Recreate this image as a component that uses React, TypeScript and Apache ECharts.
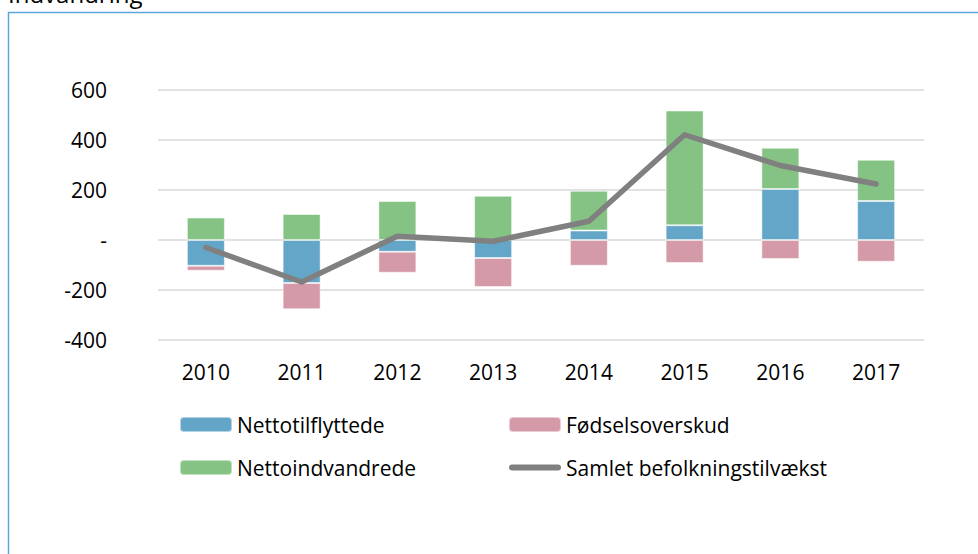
import React, { useEffect, useRef } from "react";
import * as echarts from "echarts";

const years = ["2010", "2011", "2012", "2013", "2014", "2015", "2016", "2017"];
const nettotilflyttede = [-103, -172, -47, -72, 38, 59, 204, 156];
const foedselsoverskud = [-20, -105, -84, -116, -103, -92, -76, -87];
const nettoindvandrede = [90, 104, 156, 177, 159, 459, 165, 165];
const samlet = [-30, -168, 15, -5, 75, 421, 298, 224];
const yTicks = { min: -400, max: 600, interval: 200 };

const FONT = "'Open Sans', 'Noto Sans', sans-serif";
const LINE_ICON = "path://M3,0 L49,0 A3,3 0 0 1 49,6 L3,6 A3,3 0 0 1 3,0 Z";

export default function App() {
  const ref = useRef<HTMLDivElement>(null);
  useEffect(() => {
    if (!ref.current) return;
    const chart = echarts.init(ref.current, null, { renderer: "svg" });
    chart.setOption({
      animation: false,
      textStyle: { fontFamily: FONT },
      graphic: [
        {
          type: "rect",
          shape: { x: 8.5, y: 12.5, width: 1000, height: 700 },
          style: { fill: "none", stroke: "#5BA8D8", lineWidth: 1.5 },
          silent: true,
        },
        {
          type: "text",
          x: 8,
          y: -19,
          style: {
            text: "Indvandring",
            fontFamily: FONT,
            fontSize: 24,
            fill: "#000",
            verticalAlign: "top",
          },
        },
      ],
      grid: { left: 158, right: 54, top: 90, bottom: 214, containLabel: false },
      xAxis: {
        type: "category",
        data: years,
        position: "bottom",
        axisLine: { show: false },
        axisTick: { show: false },
        axisLabel: { color: "#000", fontSize: 21, fontFamily: FONT, margin: 21 },
      },
      yAxis: {
        type: "value",
        min: yTicks.min,
        max: yTicks.max,
        interval: yTicks.interval,
        axisLine: { show: false },
        axisTick: { show: false },
        axisLabel: {
          color: "#000",
          fontSize: 21,
          fontFamily: FONT,
          margin: 51,
          formatter: (v: number) => (v === 0 ? "-" : String(v)),
        },
        splitLine: { lineStyle: { color: "#D9D9D9", width: 1.5 } },
      },
      legend: [
        {
          orient: "vertical",
          left: 179,
          top: 414,
          padding: 0,
          itemWidth: 52,
          itemHeight: 15,
          itemGap: 22,
          data: ["Nettotilflyttede", "Nettoindvandrede"],
          textStyle: { color: "#000", fontSize: 21, fontFamily: FONT, lineHeight: 21 },
        },
        {
          orient: "vertical",
          left: 508,
          top: 414,
          padding: 0,
          itemWidth: 52,
          itemHeight: 15,
          itemGap: 22,
          data: [
            "Fødselsoverskud",
            { name: "Samlet befolkningstilvækst", icon: LINE_ICON },
          ],
          textStyle: { color: "#000", fontSize: 21, fontFamily: FONT, lineHeight: 21 },
        },
      ],
      series: [
        {
          name: "Nettotilflyttede",
          type: "bar",
          stack: "total",
          barWidth: 38,
          data: nettotilflyttede,
          itemStyle: { color: "#64A6C8", borderColor: "rgba(255,255,255,0.5)", borderWidth: 1 },
        },
        {
          name: "Fødselsoverskud",
          type: "bar",
          stack: "total",
          barWidth: 38,
          data: foedselsoverskud,
          itemStyle: { color: "#D49AA8", borderColor: "rgba(255,255,255,0.5)", borderWidth: 1 },
        },
        {
          name: "Nettoindvandrede",
          type: "bar",
          stack: "total",
          barWidth: 38,
          data: nettoindvandrede,
          itemStyle: { color: "#84C384", borderColor: "rgba(255,255,255,0.5)", borderWidth: 1 },
        },
        {
          name: "Samlet befolkningstilvækst",
          type: "line",
          data: samlet,
          symbol: "none",
          lineStyle: { color: "#808080", width: 5.5, cap: "round", join: "round" },
          itemStyle: { color: "#808080" },
          z: 5,
        },
      ],
    });
    return () => chart.dispose();
  }, []);
  return (
    <div
      ref={ref}
      style={{ position: "absolute", left: 0, top: 0, width: 978, height: 554 }}
    />
  );
}
